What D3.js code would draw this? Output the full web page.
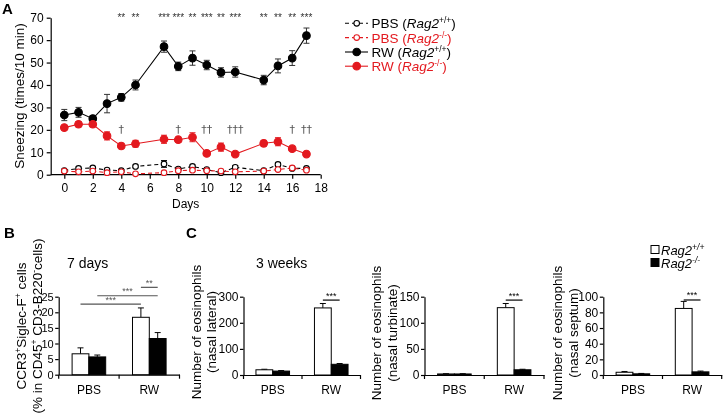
<!DOCTYPE html>
<html><head><meta charset="utf-8">
<script src="https://cdn.jsdelivr.net/npm/d3@7"></script>
<style>body{margin:0;background:#fff}svg{font-family:Arial,"Liberation Sans",sans-serif}.gs{opacity:0.999;will-change:transform}</style>
</head><body>
<svg id="c" width="725" height="418"></svg>
<script>
// ---------- Panel A data ----------
const days = [0,1,2,3,4,5,7,8,9,10,11,12,14,15,16,17];
const rwWT     = [26.6,27.8,25.0,31.7,34.5,40.0,57.1,48.3,52.0,48.9,45.6,45.8,42.2,48.5,52.0,62.0];
const rwWTerr  = [2.5,2.2,1.4,4.1,1.7,2.2,2.5,1.9,3.2,2.1,2.1,2.3,2.1,3.1,3.3,3.4];
const rwKO     = [21.0,22.5,22.5,17.3,12.8,13.8,15.8,15.6,16.7,9.5,12.3,9.2,14.0,14.7,11.6,9.2];
const rwKOerr  = [1.0,1.2,1.2,1.8,1.2,1.5,1.8,1.2,2.0,1.0,1.8,0.8,1.3,1.8,1.0,0.8];
const pbsWT    = [1.8,2.8,3.0,2.1,1.8,3.7,4.8,2.5,3.7,2.3,0.9,3.3,1.8,4.6,2.8,2.8];
const pbsWTerr = [0.5,0.6,0.6,0.5,0.5,0.6,1.5,0.5,0.6,0.5,0.5,0.8,0.5,0.8,0.6,0.5];
const pbsKO    = [1.6,1.3,1.6,0.9,1.3,0.4,0.9,1.8,2.0,1.8,1.6,1.3,1.6,2.3,3.0,2.0];
const pbsKOerr = [0.4,0.4,0.4,0.4,0.4,0.3,0.4,0.5,0.5,0.4,0.4,0.4,0.4,0.5,0.5,0.4];
const xTicksA = [0,2,4,6,8,10,12,14,16,18];
const yTicksA = [0,10,20,30,40,50,60,70];
const starDays   = [4,5,7,8,9,10,11,12,14,15,16,17];
const starLabels = ["**","**","***","***","**","***","**","***","**","**","**","***"];
const dagDays    = [4,8,10,12,16,17];
const dagLabels  = ["†","†","††","†††","†","††"];
const legendA = ["PBS","PBS","RW","RW"];
const legendASup = ["+/+","-/-","+/+","-/-"];

// ---------- Panel B / C data ----------
const groups = ["PBS","RW"];
const bWT = [6.7,18.4],  bWTerr = [1.9,3.0];
const bKO = [5.7,11.6],  bKOerr = [0.6,1.9];
const bTicks = [0,5,10,15,20,25];
const c1WT = [20,257], c1WTerr = [2,17];
const c1KO = [15,41],  c1KOerr = [2,3];
const c1Ticks = [0,100,200,300];
const c2WT = [2,129], c2WTerr = [0.5,8];
const c2KO = [2,10],  c2KOerr = [0.5,1];
const c2Ticks = [0,50,100,150];
const c3WT = [3.5,85], c3WTerr = [1,9];
const c3KO = [1.5,4],  c3KOerr = [0.5,1];
const c3Ticks = [0,20,40,60,80,100];

const red = "#e3191f";
const svg = d3.select("#c").attr("class","gs");

// ================= Panel A =================
const xA = d3.scaleLinear().domain([0,18]).range([64.3,320.7]);
const yA = d3.scaleLinear().domain([0,70]).range([174.7,17.7]);
const gA = svg.append("g");
gA.append("g").attr("transform","translate(50.7,0)")
  .call(d3.axisLeft(yA).tickValues(yTicksA).tickSize(4).tickSizeOuter(0))
  .call(g=>g.selectAll("text").attr("font-size",12).attr("fill","#000"));
gA.append("g").attr("transform","translate(0,174.7)")
  .call(d3.axisBottom(xA).tickValues(xTicksA).tickSize(4).tickSizeOuter(0))
  .call(g=>g.select(".domain").attr("d","M50.7,0H320.7"))
  .call(g=>g.selectAll("text").attr("font-size",12).attr("fill","#000").attr("dy","0.9em"));
gA.selectAll(".domain,.tick line").attr("stroke","#000").attr("stroke-width",1.2);

function series(vals, errs, color, dashed, filled){
  const pts = days.map((d,i)=>({d, v:vals[i], e:errs[i]}));
  const line = d3.line().x(p=>xA(p.d)).y(p=>yA(p.v));
  gA.append("path").datum(pts).attr("d",line).attr("fill","none")
    .attr("stroke",color).attr("stroke-width",1.1)
    .attr("stroke-dasharray",dashed?"4,3":null);
  const eg = gA.append("g").attr("stroke",filled?(color==="#000"?"#333":color):color).attr("stroke-width",1);
  pts.forEach(p=>{
    eg.append("line").attr("x1",xA(p.d)).attr("x2",xA(p.d)).attr("y1",yA(p.v-p.e)).attr("y2",yA(p.v+p.e));
    [p.v-p.e,p.v+p.e].forEach(v=>eg.append("line").attr("x1",xA(p.d)-3).attr("x2",xA(p.d)+3).attr("y1",yA(v)).attr("y2",yA(v)));
  });
  gA.append("g").selectAll("circle").data(pts).join("circle")
    .attr("cx",p=>xA(p.d)).attr("cy",p=>yA(p.v)).attr("r",filled?3.8:2.8)
    .attr("fill",filled?color:"#fff").attr("stroke",color).attr("stroke-width",1.1);
}
series(pbsWT,pbsWTerr,"#000",true,false);
series(pbsKO,pbsKOerr,red,true,false);
series(rwWT,rwWTerr,"#000",false,true);
series(rwKO,rwKOerr,red,false,true);

gA.append("g").selectAll("text").data(starDays).join("text")
  .attr("x",d=>xA(d)).attr("y",21).attr("text-anchor","middle")
  .attr("font-size",10).attr("fill","#333").text((d,i)=>starLabels[i]);
gA.append("g").selectAll("text").data(dagDays).join("text")
  .attr("x",d=>xA(d)).attr("y",133).attr("text-anchor","middle")
  .attr("font-family","'DejaVu Sans',sans-serif")
  .attr("font-size",11).attr("fill","#555").text((d,i)=>dagLabels[i]);

svg.append("text").attr("x",2).attr("y",14).attr("font-size",15).attr("font-weight","bold").text("A");
svg.append("text").attr("transform","translate(24,96) rotate(-90)").attr("text-anchor","middle")
  .attr("font-size",13.5).text("Sneezing (times/10 min)");
svg.append("text").attr("x",185.7).attr("y",208).attr("text-anchor","middle").attr("font-size",12).text("Days");

// legend A
const legY = [23.3,37.6,52.0,66.2];
legendA.forEach((t,i)=>{
  const col = (i%2===0)?"#000":red, filled = i>=2, y = legY[i];
  svg.append("line").attr("x1",345).attr("x2",368).attr("y1",y).attr("y2",y)
    .attr("stroke",col).attr("stroke-width",1.1).attr("stroke-dasharray",filled?null:"4,3");
  svg.append("circle").attr("cx",356.7).attr("cy",y).attr("r",filled?3.8:2.8)
    .attr("fill",filled?col:"#fff").attr("stroke",col).attr("stroke-width",1.1);
  const tx = svg.append("text").attr("x",371.5).attr("y",y+5).attr("font-size",13.5).attr("fill",col);
  tx.append("tspan").text(t+" (");
  tx.append("tspan").attr("font-style","italic").text("Rag2");
  tx.append("tspan").attr("font-size",8.5).attr("dy",-5).text(legendASup[i]);
  tx.append("tspan").attr("dy",5).text(")");
});

// ================= Bar panels =================
function barPanel(opt){
  const g = svg.append("g");
  const x = d3.scaleBand().domain(groups).range([opt.x0,opt.x1]);
  const y = d3.scaleLinear().domain([0,opt.ymax]).range([opt.y0,296.7]);
  const bw = 16.8;
  g.append("g").attr("transform",`translate(${opt.x0},0)`)
    .call(d3.axisLeft(y).tickValues(opt.ticks).tickSize(3.5).tickSizeOuter(0).tickPadding(1.5))
    .call(a=>a.selectAll("text").attr("font-size",opt.tf||12).attr("fill","#000"));
  g.append("g").attr("transform",`translate(0,${opt.y0})`)
    .call(d3.axisBottom(x).tickSize(0).tickSizeOuter(0))
    .call(a=>a.selectAll("text").attr("font-size",12).attr("fill","#000").attr("dy","1.35em"));
  [opt.x0,(opt.x0+opt.x1)/2,opt.x1].forEach(v=>g.append("line").attr("x1",v).attr("x2",v)
    .attr("y1",opt.y0).attr("y2",opt.y0+4).attr("stroke","#000").attr("stroke-width",1.2));
  g.selectAll(".domain,.tick line").attr("stroke","#000").attr("stroke-width",1.2);
  groups.forEach((grp,i)=>{
    const c = x(grp)+x.bandwidth()/2;
    [[opt.wt[i],opt.wte[i],c-bw,"#fff"],[opt.ko[i],opt.koe[i],c,"#000"]].forEach(([v,e,bx,fill])=>{
      const cx = bx+bw/2;
      g.append("line").attr("x1",cx).attr("x2",cx).attr("y1",y(v)).attr("y2",y(v+e)).attr("stroke","#000").attr("stroke-width",1);
      g.append("line").attr("x1",cx-3).attr("x2",cx+3).attr("y1",y(v+e)).attr("y2",y(v+e)).attr("stroke","#000").attr("stroke-width",1);
      g.append("rect").attr("x",bx).attr("y",y(v)).attr("width",bw).attr("height",opt.y0-y(v))
        .attr("fill",fill).attr("stroke","#000").attr("stroke-width",1);
    });
  });
  (opt.sig||[]).forEach(s=>{
    const c1 = x(s.g1)+x.bandwidth()/2 + (s.k1?bw/2:-bw/2);
    const c2 = x(s.g2)+x.bandwidth()/2 + (s.k2?bw/2:-bw/2);
    const yy = y(s.v);
    g.append("line").attr("x1",c1).attr("x2",c2).attr("y1",yy).attr("y2",yy).attr("stroke",s.col||"#000").attr("stroke-width",1.2);
    g.append("text").attr("x",(c1+c2)/2).attr("y",yy-1.5).attr("text-anchor","middle")
      .attr("font-size",9).attr("fill",s.col||"#000").text(s.t);
  });
  opt.ylab.forEach((l,i)=>{
    const t = svg.append("text").attr("transform",`translate(${opt.labx[i]},${opt.laby}) rotate(-90)`)
      .attr("text-anchor","middle").attr("font-size",opt.lf||14);
    l.forEach(part=>{
      const ts = t.append("tspan").text(part.t);
      if(part.sup){ ts.attr("font-size",8.5).attr("dy",-5); }
      if(part.down){ ts.attr("dy",5); }
    });
  });
}

// Panel B
barPanel({x0:58.7,x1:179.5,y0:374.7,ymax:25,ticks:bTicks,tf:11,wt:bWT,wte:bWTerr,ko:bKO,koe:bKOerr,
  sig:[{g1:"PBS",k1:false,g2:"RW",k2:false,v:22.6,t:"***",col:"#555"},
       {g1:"PBS",k1:true,g2:"RW",k2:true,v:25.3,t:"***",col:"#555"},
       {g1:"RW",k1:false,g2:"RW",k2:true,v:28.0,t:"**",col:"#555"}],
  ylab:[[{t:"CCR3"},{t:"+",sup:true},{t:"Siglec-F",down:true},{t:"+",sup:true},{t:"  cells",down:true}],
        [{t:"(% in CD45"},{t:"+",sup:true},{t:" CD3-B220",down:true},{t:"-",sup:true},{t:"cells)",down:true}]],
  labx:[26,42],laby:326,lf:13.5});
// Panel C1
barPanel({x0:243.5,x1:360.5,y0:375,ymax:300,ticks:c1Ticks,wt:c1WT,wte:c1WTerr,ko:c1KO,koe:c1KOerr,
  sig:[{g1:"RW",k1:false,g2:"RW",k2:true,v:287,t:"***"}],
  ylab:[[{t:"Number of eosinophils"}],[{t:"(nasal lateral)"}]],labx:[201,216],laby:332,lf:13.5});
// Panel C2
barPanel({x0:424.5,x1:544,y0:375,ymax:150,ticks:c2Ticks,wt:c2WT,wte:c2WTerr,ko:c2KO,koe:c2KOerr,
  sig:[{g1:"RW",k1:false,g2:"RW",k2:true,v:143.5,t:"***"}],
  ylab:[[{t:"Number of eosinophils"}],[{t:"(nasal turbinate)"}]],labx:[381,397],laby:333,lf:13.5});
// Panel C3
barPanel({x0:603.3,x1:721.7,y0:375,ymax:100,ticks:c3Ticks,wt:c3WT,wte:c3WTerr,ko:c3KO,koe:c3KOerr,
  sig:[{g1:"RW",k1:false,g2:"RW",k2:true,v:95.8,t:"***"}],
  ylab:[[{t:"Number of eosinophils"}],[{t:"(nasal septum)"}]],labx:[562,578],laby:333,lf:13.5});

svg.append("text").attr("x",4).attr("y",238).attr("font-size",15).attr("font-weight","bold").text("B");
svg.append("text").attr("x",186).attr("y",238).attr("font-size",15).attr("font-weight","bold").text("C");
svg.append("text").attr("x",67).attr("y",268).attr("font-size",14).text("7 days");
svg.append("text").attr("x",256).attr("y",268).attr("font-size",14).text("3 weeks");

// legend C
const legC = [["#fff","+/+",249.5],["#000","-/-",262.5]];
legC.forEach(([f,s,y])=>{
  svg.append("rect").attr("x",651).attr("y",y-4).attr("width",8).attr("height",8).attr("fill",f).attr("stroke","#000").attr("stroke-width",1);
  const t = svg.append("text").attr("x",661).attr("y",y+5).attr("font-size",13);
  t.append("tspan").attr("font-style","italic").text("Rag2");
  t.append("tspan").attr("font-size",8.5).attr("font-style","italic").attr("dy",-5).text(s);
});
</script>
</body></html>
